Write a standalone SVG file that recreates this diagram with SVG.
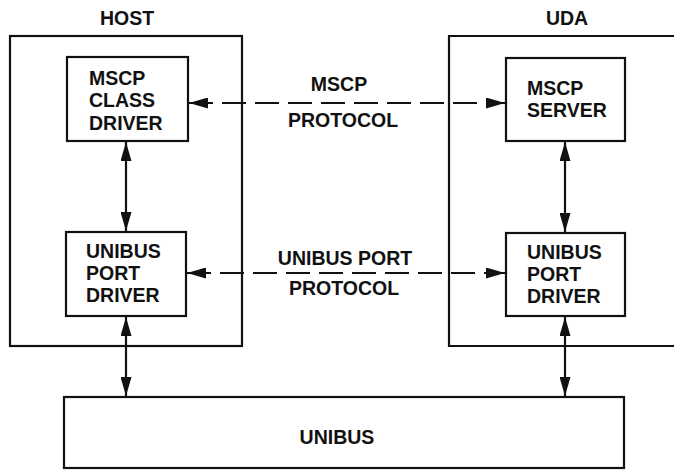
<svg xmlns="http://www.w3.org/2000/svg" width="674" height="470" viewBox="0 0 674 470">
<defs>
<marker id="ah" viewBox="0 0 19 11" refX="19" refY="5.5" markerWidth="19" markerHeight="11" markerUnits="userSpaceOnUse" orient="auto-start-reverse">
<path d="M0,0 L19,5.5 L0,11 Z" fill="#111"/>
</marker>
<style>
.box{fill:none;stroke:#111;stroke-width:2.2}
.t{font-family:"Liberation Sans",Arial,sans-serif;font-weight:bold;font-size:19.5px;fill:#111}
.c{text-anchor:middle}
.ln{stroke:#111;stroke-width:2.2;fill:none}
.dash{stroke-dasharray:24 9}
</style>
</defs>
<rect width="674" height="470" fill="#fff"/>
<g id="host">
<rect class="box" x="10" y="36" width="232" height="310"/>
<text class="t c" x="127" y="25">HOST</text>
</g>
<g id="uda">
<path class="box" d="M674,36 H449 V346 H674"/>
<text class="t c" x="567" y="25">UDA</text>
</g>
<g id="mscp-class-driver">
<rect class="box" x="67" y="57" width="121" height="84"/>
<text class="t" x="89" y="85">MSCP</text>
<text class="t" x="89" y="107">CLASS</text>
<text class="t" x="89" y="130">DRIVER</text>
</g>
<g id="host-unibus-port-driver">
<rect class="box" x="66" y="232" width="120" height="84"/>
<text class="t" x="86" y="258">UNIBUS</text>
<text class="t" x="86" y="280">PORT</text>
<text class="t" x="86" y="302">DRIVER</text>
</g>
<g id="mscp-server">
<rect class="box" x="506" y="58" width="119" height="83"/>
<text class="t" x="527" y="95">MSCP</text>
<text class="t" x="527" y="117">SERVER</text>
</g>
<g id="uda-unibus-port-driver">
<rect class="box" x="506" y="233" width="119" height="83"/>
<text class="t" x="527" y="259">UNIBUS</text>
<text class="t" x="527" y="281">PORT</text>
<text class="t" x="527" y="303">DRIVER</text>
</g>
<g id="unibus">
<rect class="box" x="64" y="397" width="560" height="71"/>
<text class="t c" x="337" y="444">UNIBUS</text>
</g>
<g id="connectors">
<line class="ln dash" x1="189" y1="103" x2="505" y2="103" marker-start="url(#ah)" marker-end="url(#ah)"/>
<line class="ln dash" x1="187" y1="273" x2="505" y2="273" marker-start="url(#ah)" marker-end="url(#ah)"/>
<line class="ln" x1="126" y1="142" x2="126" y2="231" marker-start="url(#ah)" marker-end="url(#ah)"/>
<line class="ln" x1="565" y1="142" x2="565" y2="232" marker-start="url(#ah)" marker-end="url(#ah)"/>
<line class="ln" x1="126" y1="317" x2="126" y2="396" marker-start="url(#ah)" marker-end="url(#ah)"/>
<line class="ln" x1="565" y1="317" x2="565" y2="396" marker-start="url(#ah)" marker-end="url(#ah)"/>
</g>
<g id="labels">
<text class="t c" x="339" y="91">MSCP</text>
<text class="t c" x="343" y="127">PROTOCOL</text>
<text class="t c" x="345" y="265">UNIBUS PORT</text>
<text class="t c" x="344" y="295">PROTOCOL</text>
</g>
</svg>
